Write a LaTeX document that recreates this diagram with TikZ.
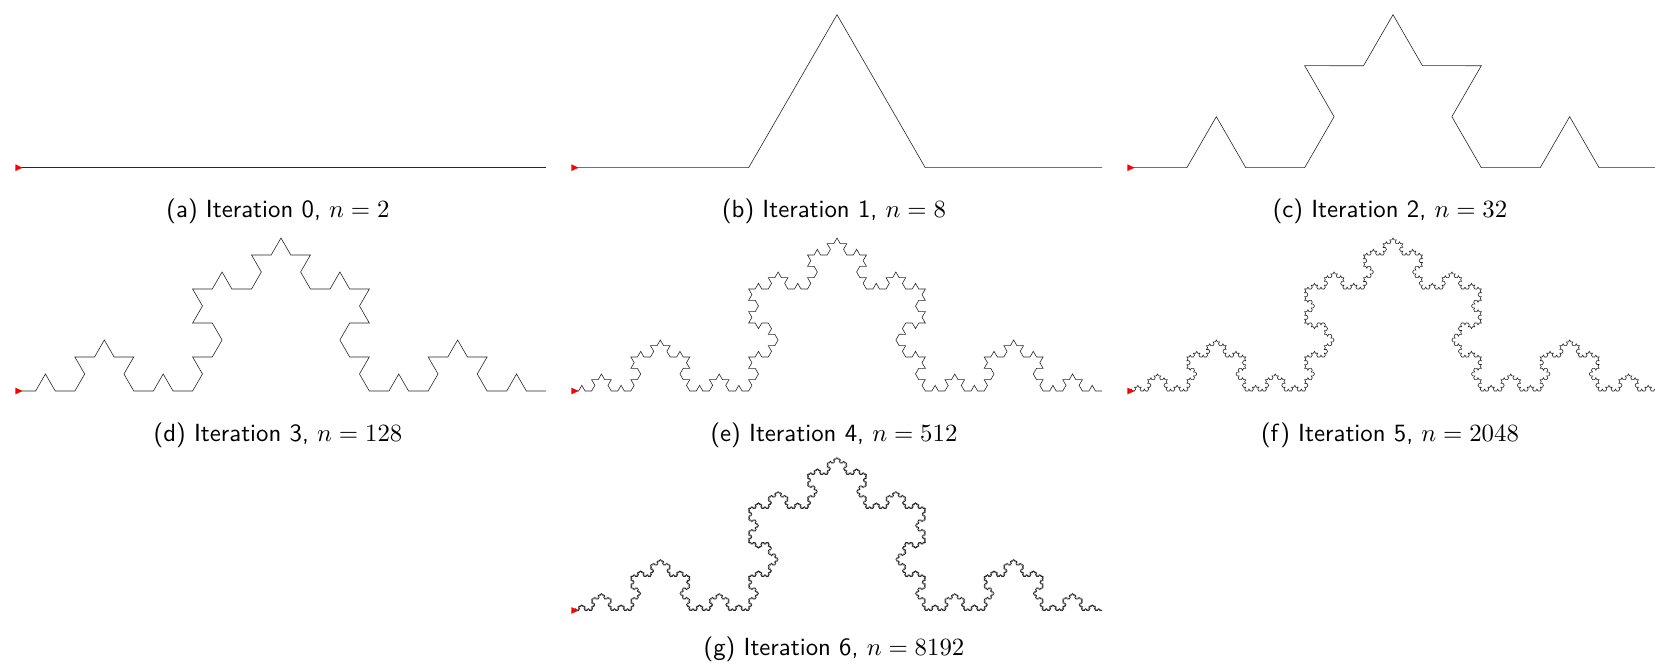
\documentclass[tikz,border=0pt]{standalone}
\usetikzlibrary{decorations.fractals,calc}
\tikzset{
  koch/.style={line width=0.6pt, black!85, line join=miter},
  startmark/.style={fill=red, draw=none},
  captext/.style={font=\sffamily, scale=2.48, inner sep=0pt, anchor=base},
}
\begin{document}
\begin{tikzpicture}[x=1pt,y=-1pt]
\useasboundingbox (0,0) rectangle (1655,668);
\coordinate (sa) at (16,167.7);
\coordinate (sb) at (572,167.7);
\coordinate (sc) at (1128,167.7);
\coordinate (sd) at (16,391);
\coordinate (se) at (572,391);
\coordinate (sf) at (1128,391);
\coordinate (sg) at (572,610.5);
\draw[koch] (sa) -- ++(530,0);
\draw[koch] decorate[decoration=Koch snowflake]{(sb) -- ++(530,0)};
\draw[koch] decorate[decoration=Koch snowflake]{decorate[decoration=Koch snowflake]{(sc) -- ++(530,0)}};
\draw[koch] decorate[decoration=Koch snowflake]{decorate[decoration=Koch snowflake]{decorate[decoration=Koch snowflake]{(sd) -- ++(530,0)}}};
\draw[koch] decorate[decoration=Koch snowflake]{decorate[decoration=Koch snowflake]{decorate[decoration=Koch snowflake]{decorate[decoration=Koch snowflake]{(se) -- ++(530,0)}}}};
\draw[koch] decorate[decoration=Koch snowflake]{decorate[decoration=Koch snowflake]{decorate[decoration=Koch snowflake]{decorate[decoration=Koch snowflake]{decorate[decoration=Koch snowflake]{(sf) -- ++(530,0)}}}}};
\draw[koch] decorate[decoration=Koch snowflake]{decorate[decoration=Koch snowflake]{decorate[decoration=Koch snowflake]{decorate[decoration=Koch snowflake]{decorate[decoration=Koch snowflake]{decorate[decoration=Koch snowflake]{(sg) -- ++(530,0)}}}}}};
\foreach \s in {sa,sb,sc,sd,se,sf,sg}{
  \fill[startmark] ($(\s)+(-0.7,-3.4)$) -- ($(\s)+(6.5,0)$) -- ($(\s)+(-0.7,3.4)$) -- cycle;
}
\node[captext] (capa) at (278,218) {(a) Iteration 0, $n=2$};
\node[captext] (capb) at (834,218) {(b) Iteration 1, $n=8$};
\node[captext] (capc) at (1390,218) {(c) Iteration 2, $n=32$};
\node[captext] (capd) at (278,441.8) {(d) Iteration 3, $n=128$};
\node[captext] (cape) at (834,441.8) {(e) Iteration 4, $n=512$};
\node[captext] (capf) at (1390,441.8) {(f) Iteration 5, $n=2048$};
\node[captext] (capg) at (834,655) {(g) Iteration 6, $n=8192$};
\end{tikzpicture}
\end{document}
